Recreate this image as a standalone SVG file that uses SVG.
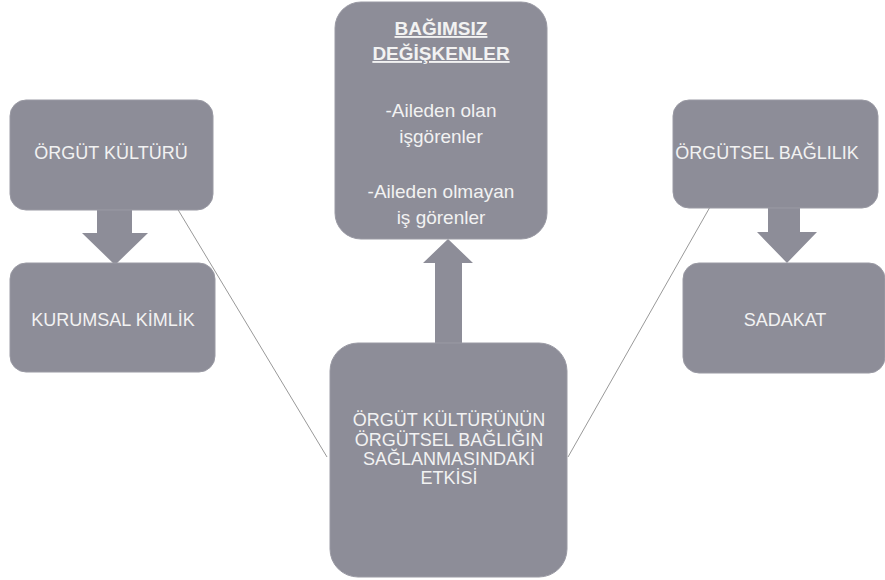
<svg xmlns="http://www.w3.org/2000/svg" width="885" height="580" viewBox="0 0 885 580">
<style>
.box{fill:#8d8d98;stroke:#9a9aa4;stroke-width:1}
.arr{fill:#8d8d98}
.t{font-family:"Liberation Sans","DejaVu Sans",sans-serif;font-size:18px;fill:#f2f2f2;text-anchor:middle}
.top{font-size:19px}
.b{font-weight:bold}
.con{stroke:#999999;stroke-width:1;fill:none}
</style>
<rect width="885" height="580" fill="#ffffff"/>
<g id="connectors">
<line class="con" x1="177" y1="208" x2="327" y2="457"/>
<line class="con" x1="710" y1="207" x2="568" y2="457"/>
<polygon class="arr" points="97,210 132,210 132,233 148,233 115,265 82,233 97,233"/>
<polygon class="arr" points="768,208 800,208 800,232 817,232 787,263 757,232 768,232"/>
<polygon class="arr" points="435,344 462,344 462,263 473,263 448,239 423,263 435,263"/>
</g>
<g id="n-bagimsiz">
<rect class="box" x="335" y="2" width="212" height="237" rx="26"/>
<text class="t top b" x="441" y="35" text-decoration="underline">BAĞIMSIZ</text>
<text class="t top b" x="441" y="60" text-decoration="underline">DEĞİŞKENLER</text>
<text class="t top" x="441" y="117">-Aileden olan</text>
<text class="t top" x="441" y="143">işgörenler</text>
<text class="t top" x="441" y="198">-Aileden olmayan</text>
<text class="t top" x="441" y="224">iş görenler</text>
</g>
<g id="n-orgut-kulturu">
<rect class="box" x="10" y="100" width="203" height="110" rx="16"/>
<text class="t" x="111" y="159">ÖRGÜT KÜLTÜRÜ</text>
</g>
<g id="n-kurumsal">
<rect class="box" x="10" y="263" width="205" height="109" rx="16"/>
<text class="t" x="113" y="326">KURUMSAL KİMLİK</text>
</g>
<g id="n-orgutsel-baglilik">
<rect class="box" x="673" y="100" width="205" height="108" rx="16"/>
<text class="t" x="767" y="159">ÖRGÜTSEL BAĞLILIK</text>
</g>
<g id="n-sadakat">
<rect class="box" x="683" y="263" width="202" height="110" rx="16"/>
<text class="t" x="785" y="326">SADAKAT</text>
</g>
<g id="n-etki">
<rect class="box" x="330" y="343" width="237" height="234" rx="28"/>
<text class="t" x="449" y="426">ÖRGÜT KÜLTÜRÜNÜN</text>
<text class="t" x="449" y="446">ÖRGÜTSEL BAĞLIĞIN</text>
<text class="t" x="449" y="465">SAĞLANMASINDAKİ</text>
<text class="t" x="449" y="484">ETKİSİ</text>
</g>
</svg>
